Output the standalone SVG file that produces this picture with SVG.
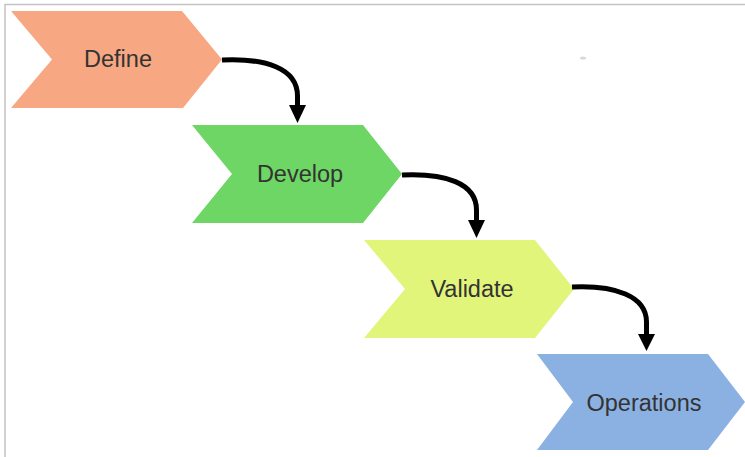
<svg xmlns="http://www.w3.org/2000/svg" width="745" height="457" viewBox="0 0 745 457">
<style>
.lbl{font-family:"Liberation Sans",Arial,sans-serif;font-size:23.5px;fill:#333333;text-anchor:middle;dominant-baseline:central}
.conn{fill:none;stroke:#000000;stroke-width:5;stroke-linecap:butt}
.head{fill:#000000}
</style>
<rect width="745" height="457" fill="#ffffff"/>
<path d="M5,457 V4.5 H745" fill="none" stroke="#c4c4c4" stroke-width="1.5"/>
<ellipse cx="583" cy="58" rx="3" ry="1.5" fill="#d8d8d8"/>
<g id="define">
<polygon points="11,11 182,11 222,59.5 183,108 11,108 52,59.5" fill="#F7A882"/>
<text class="lbl" x="118" y="59">Define</text>
</g>
<g id="develop">
<polygon points="192,125 363,125 402,174 363,223 192,223 232,174" fill="#6DD664"/>
<text class="lbl" x="300" y="174">Develop</text>
</g>
<g id="validate">
<polygon points="364,240 535,240 574,289 535,338 364,338 405,289" fill="#E1F57B"/>
<text class="lbl" x="472" y="289">Validate</text>
</g>
<g id="operations">
<polygon points="537,354 708,354 745,402 708,450 537,450 573,402" fill="#8BB1E2"/>
<text class="lbl" x="644" y="403">Operations</text>
</g>
<g id="connectors">
<path class="conn" d="M222,60 C265,58 297.5,68 297.5,96 V107"/>
<polygon class="head" points="289,105 306,105 297.5,123"/>
<path class="conn" d="M402,175 C445,173 476.5,183 476.5,210 V222"/>
<polygon class="head" points="468,220 485,220 476.5,238"/>
<path class="conn" d="M572,287 C615,285 646.5,296 646.5,322 V337"/>
<polygon class="head" points="638,334 655,334 646.5,351"/>
</g>
</svg>
